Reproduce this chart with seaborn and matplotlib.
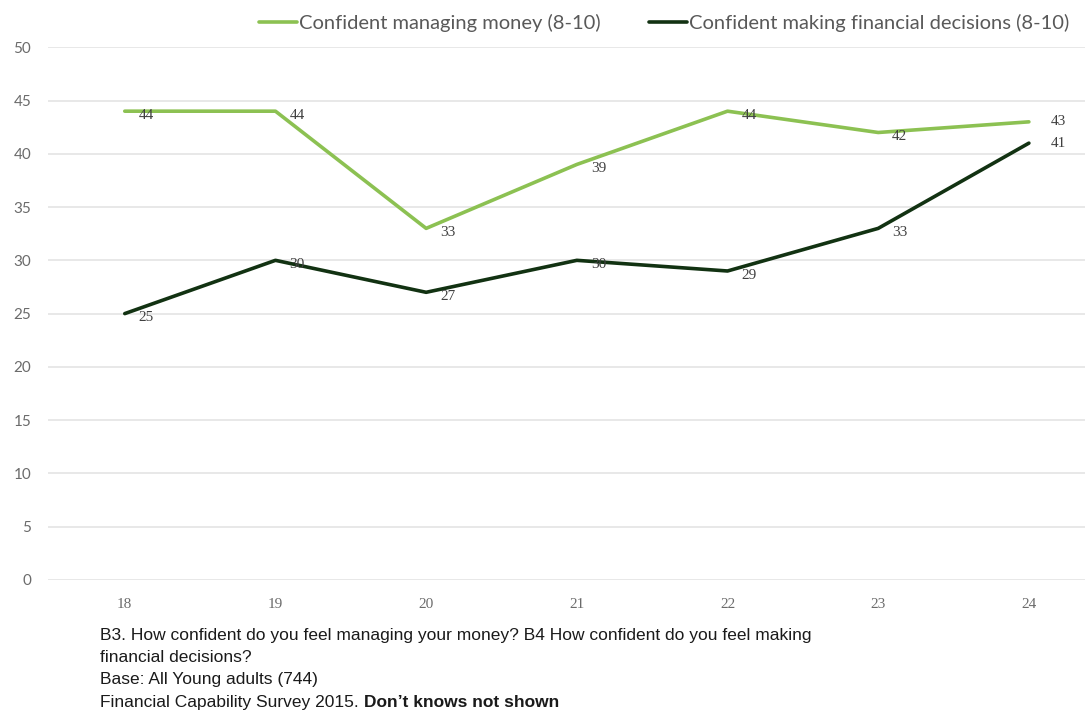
import pandas as pd
import numpy as np
import matplotlib.pyplot as plt
import seaborn as sns
from matplotlib.lines import Line2D

# Ages and % confident (8-10)
ages = ["18", "19", "20", "21", "22", "23", "24"]
managing_money = [44, 44, 33, 39, 44, 42, 43]
financial_decisions = [25, 30, 27, 30, 29, 33, 41]

series_names = ["Confident managing money (8-10)",
                "Confident making financial decisions (8-10)"]
colors = ["#8cc152", "#123212"]

df = pd.DataFrame({
    "Age": ages * 2,
    "Value": managing_money + financial_decisions,
    "Series": [series_names[0]] * len(ages) + [series_names[1]] * len(ages),
})

sns.set_style("white")

fig = plt.figure(figsize=(10.89, 7.16), dpi=100)
ax = fig.add_axes([0.044, 0.19, 0.952, 0.744])

sns.lineplot(data=df, x="Age", y="Value", hue="Series", palette=colors,
             linewidth=2.6, ax=ax, sort=False, legend=False)

ax.set_ylim(0, 50)
ax.set_xlim(-0.51, 6.37)
ax.set_yticks(range(0, 51, 5))
for y in range(0, 51, 5):
    ax.axhline(y, color="#e6e6e6", linewidth=1.3, zorder=0)

for s in ax.spines.values():
    s.set_visible(False)
ax.tick_params(length=0)
ax.tick_params(axis="y", pad=12, labelsize=11, labelcolor="#6b6b6b")
ax.tick_params(axis="x", pad=13, labelsize=11, labelcolor="#6b6b6b")
for lab in ax.get_yticklabels():
    lab.set_family("Lato")
for lab in ax.get_xticklabels():
    lab.set_family("Liberation Serif")
ax.set_xlabel("")
ax.set_ylabel("")

# data labels
for vals in [managing_money, financial_decisions]:
    for i, v in enumerate(vals):
        if i == len(vals) - 1:
            ax.annotate(str(v), (i, v), xytext=(16, 0), textcoords="offset points",
                        ha="left", va="center", fontsize=11, color="#404040",
                        family="Liberation Serif")
        else:
            ax.annotate(str(v), (i, v), xytext=(10, -3), textcoords="offset points",
                        ha="left", va="center", fontsize=11, color="#404040",
                        family="Liberation Serif")

# legend
handles = [Line2D([], [], color=c, linewidth=2.6) for c in colors]
fig.legend(handles, series_names, loc="center", bbox_to_anchor=(0.61, 0.968),
           ncol=2, frameon=False, handlelength=1.9, handletextpad=0.1,
           columnspacing=2.4, prop={"family": "Lato", "size": 14.5},
           labelcolor="#595959")

# footnote
fn = {"fontsize": 12.5, "family": "Liberation Sans", "color": "#1a1a1a"}
fig.text(0.092, 0.106, "B3. How confident do you feel managing your money? B4 How confident do you feel making", **fn)
fig.text(0.092, 0.075, "financial decisions?", **fn)
fig.text(0.092, 0.044, "Base: All Young adults (744)", **fn)
t = fig.text(0.092, 0.012, "Financial Capability Survey 2015. ", **fn)
fig.canvas.draw()
bb = t.get_window_extent()
fig.text(bb.x1 / fig.bbox.width, 0.012, "Don\u2019t knows not shown", weight="bold", **fn)

fig.savefig("out.png", dpi=100)
